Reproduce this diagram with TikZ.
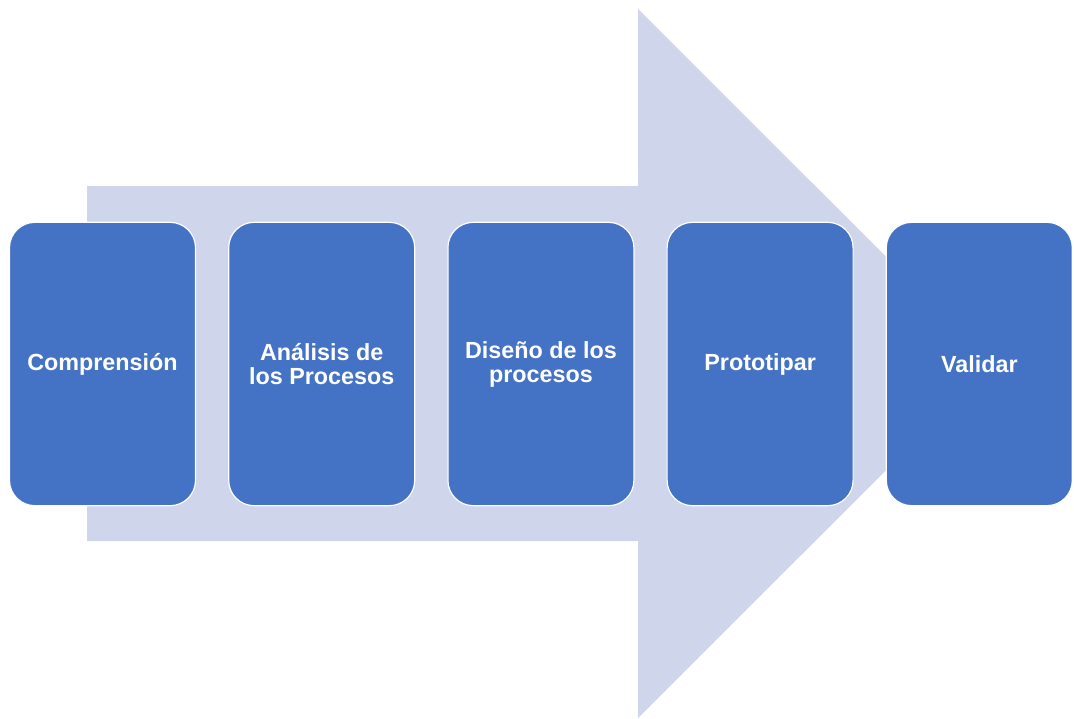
\documentclass[tikz,border=0pt]{standalone}
\usepackage{fontspec}
\setmainfont{Liberation Sans}
\usetikzlibrary{positioning}
\definecolor{bleu}{HTML}{4472C4}
\definecolor{fleche}{HTML}{CFD5EA}
\tikzset{
  etapa/.style={fill=bleu, draw=white, line width=0.9pt, rounded corners=19pt,
    minimum width=139.5pt, minimum height=212.5pt, inner sep=4pt,
    text=white, align=center, font=\bfseries\fontsize{17.5}{18}\selectfont}
}
\begin{document}
\begin{tikzpicture}[x=0.75pt,y=-0.75pt]
\useasboundingbox (0,0) rectangle (1074,718);
% la grande flèche derrière les étapes
\fill[fleche] (87,186) -- (638,186) -- (638,9) -- (993,363.5) -- (638,718) -- (638,541) -- (87,541) -- cycle;
% les cinq étapes
\node[etapa] (comp) at (102.5,364) {Comprensión};
\node[etapa, right=24pt of comp] (anal) {Análisis de\\los Procesos};
\node[etapa, right=24pt of anal] (dise) {Diseño de los\\procesos};
\node[etapa, right=24pt of dise] (prot) {Prototipar};
\node[etapa, right=24pt of prot] (vali) {Validar};
\end{tikzpicture}
\end{document}
